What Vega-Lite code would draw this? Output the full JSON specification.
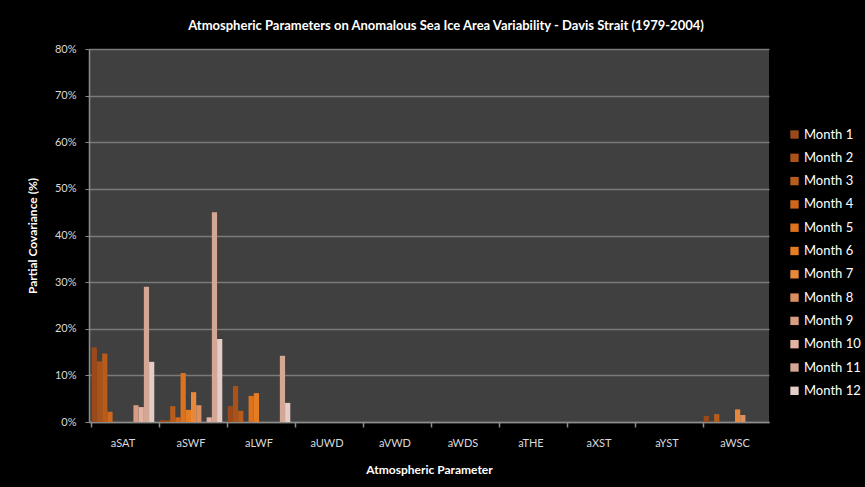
{
  "$schema": "https://vega.github.io/schema/vega-lite/v6.json",
  "autosize": {"type": "none"},
  "padding": {"left": 89, "top": 49, "right": 96, "bottom": 65},
  "width": 680,
  "height": 373,
  "background": "#000000",
  "title": {
    "text": "Atmospheric Parameters on Anomalous Sea Ice Area Variability - Davis Strait (1979-2004)",
    "color": "#ffffff",
    "font": "Lato",
    "fontSize": 13,
    "fontWeight": "bold",
    "anchor": "middle",
    "dx": 17,
    "offset": 10
  },
  "data": {
    "values": [
      {"param": "aSAT", "month": "Month 1", "value": 16.0},
      {"param": "aSAT", "month": "Month 2", "value": 13.0},
      {"param": "aSAT", "month": "Month 3", "value": 14.7},
      {"param": "aSAT", "month": "Month 4", "value": 2.2},
      {"param": "aSAT", "month": "Month 5", "value": 0},
      {"param": "aSAT", "month": "Month 6", "value": 0},
      {"param": "aSAT", "month": "Month 7", "value": 0},
      {"param": "aSAT", "month": "Month 8", "value": 0},
      {"param": "aSAT", "month": "Month 9", "value": 3.6},
      {"param": "aSAT", "month": "Month 10", "value": 3.2},
      {"param": "aSAT", "month": "Month 11", "value": 29.0},
      {"param": "aSAT", "month": "Month 12", "value": 12.9},
      {"param": "aSWF", "month": "Month 1", "value": 0.4},
      {"param": "aSWF", "month": "Month 2", "value": 0.3},
      {"param": "aSWF", "month": "Month 3", "value": 3.4},
      {"param": "aSWF", "month": "Month 4", "value": 1.0},
      {"param": "aSWF", "month": "Month 5", "value": 10.5},
      {"param": "aSWF", "month": "Month 6", "value": 2.6},
      {"param": "aSWF", "month": "Month 7", "value": 6.4},
      {"param": "aSWF", "month": "Month 8", "value": 3.6},
      {"param": "aSWF", "month": "Month 9", "value": 0},
      {"param": "aSWF", "month": "Month 10", "value": 1.0},
      {"param": "aSWF", "month": "Month 11", "value": 45.0},
      {"param": "aSWF", "month": "Month 12", "value": 17.8},
      {"param": "aLWF", "month": "Month 1", "value": 3.4},
      {"param": "aLWF", "month": "Month 2", "value": 7.7},
      {"param": "aLWF", "month": "Month 3", "value": 2.4},
      {"param": "aLWF", "month": "Month 4", "value": 0},
      {"param": "aLWF", "month": "Month 5", "value": 5.6},
      {"param": "aLWF", "month": "Month 6", "value": 6.2},
      {"param": "aLWF", "month": "Month 7", "value": 0},
      {"param": "aLWF", "month": "Month 8", "value": 0},
      {"param": "aLWF", "month": "Month 9", "value": 0},
      {"param": "aLWF", "month": "Month 10", "value": 0},
      {"param": "aLWF", "month": "Month 11", "value": 14.2},
      {"param": "aLWF", "month": "Month 12", "value": 4.1},
      {"param": "aUWD", "month": "Month 1", "value": 0},
      {"param": "aVWD", "month": "Month 1", "value": 0},
      {"param": "aWDS", "month": "Month 1", "value": 0},
      {"param": "aTHE", "month": "Month 1", "value": 0},
      {"param": "aXST", "month": "Month 1", "value": 0},
      {"param": "aYST", "month": "Month 1", "value": 0},
      {"param": "aWSC", "month": "Month 1", "value": 1.3},
      {"param": "aWSC", "month": "Month 2", "value": 0},
      {"param": "aWSC", "month": "Month 3", "value": 1.7},
      {"param": "aWSC", "month": "Month 4", "value": 0},
      {"param": "aWSC", "month": "Month 5", "value": 0},
      {"param": "aWSC", "month": "Month 6", "value": 0},
      {"param": "aWSC", "month": "Month 7", "value": 2.7},
      {"param": "aWSC", "month": "Month 8", "value": 1.5},
      {"param": "aWSC", "month": "Month 9", "value": 0},
      {"param": "aWSC", "month": "Month 10", "value": 0},
      {"param": "aWSC", "month": "Month 11", "value": 0},
      {"param": "aWSC", "month": "Month 12", "value": 0}
    ]
  },
  "layer": [
    {
      "mark": {"type": "bar", "opacity": 1},
      "encoding": {
        "x": {
          "field": "param",
          "type": "nominal",
          "sort": ["aSAT", "aSWF", "aLWF", "aUWD", "aVWD", "aWDS", "aTHE", "aXST", "aYST", "aWSC"],
          "scale": {"paddingInner": 0.08, "paddingOuter": 0.04},
          "axis": {
            "orient": "bottom",
            "title": "Atmospheric Parameter",
            "labelAngle": 0,
            "ticks": false,
            "labelPadding": 15,
            "titlePadding": 16,
            "domainColor": "#8c8c8c",
            "domainWidth": 1.5,
            "labelColor": "#d9d9d9",
            "labelFont": "Lato",
            "labelFontSize": 11,
            "titleColor": "#ffffff",
            "titleFont": "Lato",
            "titleFontSize": 12,
            "titleFontWeight": "bold"
          }
        },
        "xOffset": {
          "field": "month",
          "type": "nominal",
          "scale": {
            "domain": ["Month 1", "Month 2", "Month 3", "Month 4", "Month 5", "Month 6", "Month 7", "Month 8", "Month 9", "Month 10", "Month 11", "Month 12"],
            "paddingInner": 0,
            "paddingOuter": 0
          }
        },
        "y": {
          "field": "value",
          "type": "quantitative",
          "scale": {"domain": [0, 80], "nice": false},
          "axis": {
            "title": "Partial Covariance (%)",
            "values": [0, 10, 20, 30, 40, 50, 60, 70, 80],
            "labelExpr": "datum.value + '%'",
            "tickSize": 4,
            "tickColor": "#8c8c8c",
            "labelPadding": 9,
            "titlePadding": 15,
            "domainColor": "#8c8c8c",
            "domainWidth": 1.5,
            "grid": true,
            "gridColor": "#7a7a7a",
            "gridWidth": 1.5,
            "labelColor": "#d9d9d9",
            "labelFont": "Lato",
            "labelFontSize": 11,
            "titleColor": "#ffffff",
            "titleFont": "Lato",
            "titleFontSize": 12,
            "titleFontWeight": "bold"
          }
        },
        "color": {
          "field": "month",
          "type": "nominal",
          "scale": {
            "domain": ["Month 1", "Month 2", "Month 3", "Month 4", "Month 5", "Month 6", "Month 7", "Month 8", "Month 9", "Month 10", "Month 11", "Month 12"],
            "range": ["#9a4a1a", "#a9531b", "#b85c1c", "#cf681c", "#dd731e", "#e57d22", "#e8883a", "#dc9062", "#d79c82", "#e2b3a3", "#d4a694", "#e4cdc6"]
          },
          "legend": {
            "title": null,
            "orient": "none",
            "legendX": 699,
            "legendY": 79,
            "symbolType": "square",
            "symbolSize": 70,
            "symbolStrokeWidth": 0,
            "labelColor": "#ffffff",
            "labelFont": "Lato",
            "labelFontSize": 13,
            "labelOffset": 3,
            "rowPadding": 9.3
          }
        }
      }
    },
    {
      "mark": {"type": "bar", "opacity": 0},
      "encoding": {
        "x": {
          "field": "param",
          "type": "nominal",
          "sort": ["aSAT", "aSWF", "aLWF", "aUWD", "aVWD", "aWDS", "aTHE", "aXST", "aYST", "aWSC"],
          "axis": {
            "orient": "bottom",
            "title": null,
            "labels": false,
            "domain": false,
            "ticks": true,
            "bandPosition": 0,
            "tickSize": 5,
            "tickColor": "#8c8c8c",
            "tickWidth": 1.5
          }
        }
      }
    }
  ],
  "resolve": {"axis": {"x": "independent"}},
  "config": {
    "view": {"fill": "#404040", "stroke": null}
  }
}
